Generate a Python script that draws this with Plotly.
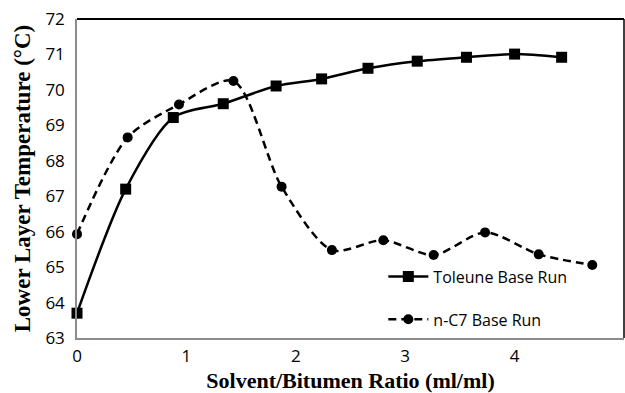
import plotly.graph_objects as go

# Toluene base run
toluene_ratio = [0.0, 0.445, 0.88, 1.337, 1.82, 2.236, 2.66, 3.11, 3.56, 4.0, 4.43]
toluene_temp = [63.70, 67.20, 69.22, 69.61, 70.11, 70.31, 70.61, 70.81, 70.92, 71.01, 70.92]

# n-heptane base run
heptane_ratio = [0.0, 0.463, 0.932, 1.43, 1.87, 2.33, 2.80, 3.26, 3.73, 4.22, 4.71]
heptane_temp = [65.93, 68.66, 69.59, 70.25, 67.27, 65.48, 65.76, 65.34, 65.98, 65.36, 65.06]

x_ticks = [0, 1, 2, 3, 4, 5]
y_ticks = [63, 64, 65, 66, 67, 68, 69, 70, 71, 72]

tick_font = dict(family="Open Sans, Lato, sans-serif", size=17, color="#000000")
title_font = dict(family="Liberation Serif, Times New Roman, serif", size=22, color="#000000")

fig = go.Figure()
fig.add_trace(go.Scatter(
    x=toluene_ratio, y=toluene_temp, name="Toleune Base Run",
    mode="lines+markers", legendgroup="a",
    line=dict(color="#000000", width=2.5, shape="spline", smoothing=0.8),
    marker=dict(symbol="square", size=11, color="#000000"),
    cliponaxis=False,
))
fig.add_trace(go.Scatter(
    x=heptane_ratio, y=heptane_temp, name="n-C7 Base Run",
    mode="lines+markers", legendgroup="b",
    line=dict(color="#000000", width=2.5, shape="spline", smoothing=0.8, dash="8px,5px"),
    marker=dict(symbol="circle", size=10, color="#000000"),
    cliponaxis=False,
))

fig.update_layout(
    width=625, height=393,
    margin=dict(l=77, r=1, t=19, b=55),
    paper_bgcolor="#ffffff", plot_bgcolor="#ffffff",
    legend=dict(
        x=0.56, y=0.125, xanchor="left", yanchor="middle",
        bgcolor="rgba(0,0,0,0)", font=dict(family="Open Sans, Lato, sans-serif", size=16, color="#000000"),
        tracegroupgap=19, itemwidth=40,
    ),
    xaxis=dict(
        range=[0, 5], tickvals=x_ticks, showgrid=False, zeroline=False,
        showline=True, linecolor="#8c8c8c", linewidth=2, ticks="",
        tickfont=tick_font, ticklabelstandoff=2,
        title=dict(text="<b>Solvent/Bitumen Ratio (ml/ml)</b>", font=title_font, standoff=6),
    ),
    yaxis=dict(
        range=[63, 72], tickvals=y_ticks, showgrid=False, zeroline=False,
        showline=True, linecolor="#8c8c8c", linewidth=1.5, ticks="",
        tickfont=tick_font, ticklabelstandoff=7,
        title=dict(text="<b>Lower Layer Temperature (°C)</b>",
                   font=dict(family="Liberation Serif, Times New Roman, serif", size=23, color="#000000"),
                   standoff=8),
    ),
    shapes=[
        dict(type="line", xref="paper", yref="paper", x0=0, x1=1, y0=1, y1=1,
             line=dict(color="#000000", width=2)),
        dict(type="line", xref="paper", yref="paper", x0=1, x1=1, y0=0, y1=1,
             line=dict(color="#000000", width=1.5)),
    ],
)

fig.write_html("out.html")
